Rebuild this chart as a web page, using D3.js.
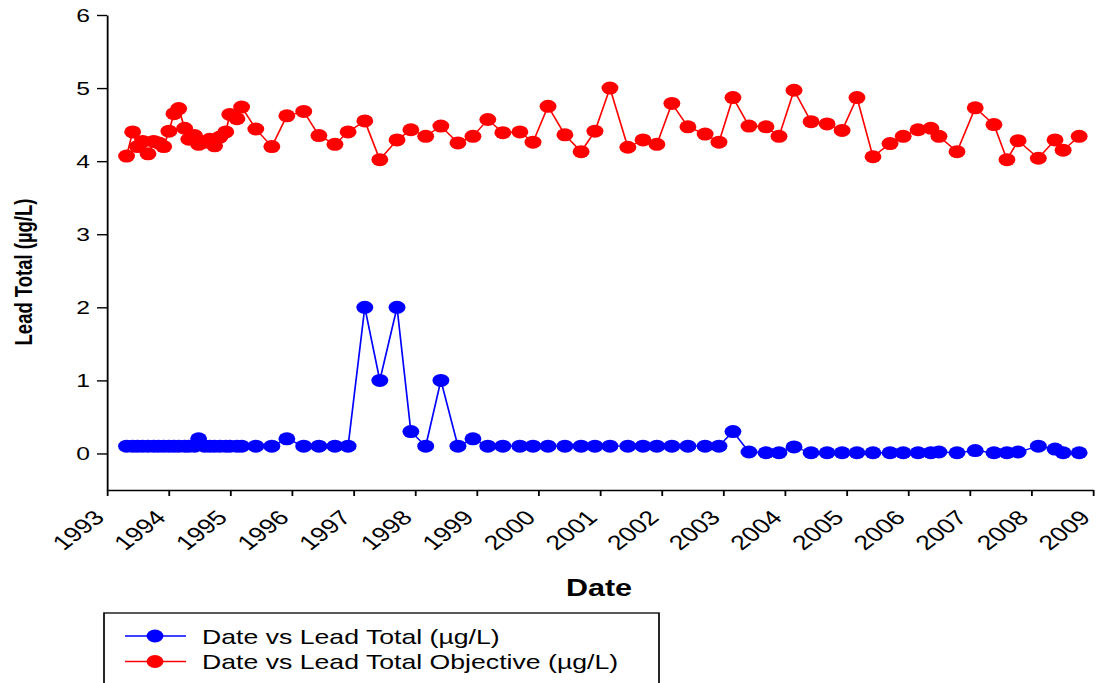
<!DOCTYPE html>
<html>
<head>
<meta charset="utf-8">
<script src="https://cdn.jsdelivr.net/npm/d3@7"></script>
<style>
  html, body { margin: 0; padding: 0; background: #fff; overflow: hidden; }
  svg { display: block; }
</style>
</head>
<body>
<svg id="chart"></svg>
<script>
// ---------------- data ----------------
const sampleDates = [
  "1993-04-27","1993-06-02","1993-07-01","1993-08-01","1993-09-01","1993-10-05","1993-11-03","1993-12-03",
  "1994-01-03","1994-02-02","1994-03-02","1994-04-06","1994-05-01","1994-06-04","1994-06-28","1994-08-03",
  "1994-09-02","1994-10-01","1994-11-01","1994-12-06","1994-12-30","1995-02-10","1995-03-10","1995-06-02",
  "1995-09-05","1995-12-03","1996-03-12","1996-06-10","1996-09-13","1996-11-30","1997-03-09","1997-06-06",
  "1997-09-16","1997-12-07","1998-03-05","1998-06-03","1998-09-12","1998-12-10","1999-03-08","1999-06-05",
  "1999-09-14","1999-12-01","2000-02-28","2000-06-07","2000-09-11","2000-12-02","2001-03-01","2001-06-15",
  "2001-09-13","2001-12-04","2002-03-03","2002-06-06","2002-09-16","2002-12-07","2003-02-28","2003-06-03",
  "2003-09-12","2003-11-28","2004-02-25","2004-06-05","2004-09-08","2004-12-06","2005-03-04","2005-06-07",
  "2005-09-16","2005-12-03","2006-03-01","2006-05-16","2006-07-03","2006-10-18","2007-02-03","2007-05-25",
  "2007-08-10","2007-10-15","2008-02-12","2008-05-21","2008-07-08","2008-10-11"
];
const leadTotal = [
  0.1,0.1,0.1,0.1,0.1,0.1,0.1,0.1,
  0.1,0.1,0.1,0.1,0.1,0.1,0.2,0.1,
  0.1,0.1,0.1,0.1,0.1,0.1,0.1,0.1,
  0.1,0.2,0.1,0.1,0.1,0.1,2.0,1.0,
  2.0,0.3,0.1,1.0,0.1,0.2,0.1,0.1,
  0.1,0.1,0.1,0.1,0.1,0.1,0.1,0.1,
  0.1,0.1,0.1,0.1,0.1,0.1,0.3,0.02,
  0.01,0.01,0.09,0.01,0.01,0.01,0.01,0.01,
  0.01,0.01,0.01,0.01,0.02,0.01,0.04,0.01,
  0.01,0.02,0.1,0.06,0.01,0.01
];
const leadObjective = [
  4.07,4.40,4.20,4.27,4.10,4.27,4.25,4.20,
  4.41,4.65,4.72,4.45,4.30,4.35,4.23,4.26,
  4.30,4.21,4.33,4.40,4.64,4.58,4.74,4.44,
  4.20,4.62,4.68,4.35,4.23,4.40,4.55,4.02,
  4.29,4.43,4.34,4.48,4.25,4.34,4.57,4.39,
  4.40,4.26,4.75,4.36,4.13,4.41,5.00,4.19,
  4.29,4.23,4.79,4.47,4.37,4.26,4.87,4.48,
  4.47,4.34,4.97,4.54,4.51,4.42,4.87,4.06,
  4.24,4.34,4.43,4.45,4.34,4.13,4.73,4.50,
  4.02,4.28,4.04,4.29,4.15,4.34
];
const yTickValues = [0, 1, 2, 3, 4, 5, 6];
const xTickYears = [1993,1994,1995,1996,1997,1998,1999,2000,2001,2002,2003,2004,2005,2006,2007,2008,2009];
const seriesNames = ["Date vs Lead Total (\u00b5g/L)", "Date vs Lead Total Objective (\u00b5g/L)"];
const seriesColors = ["#0000ff", "#ff0000"];
const xTitle = "Date";
const yTitle = "Lead Total (\u00b5g/L)";

// ---------------- layout ----------------
const W = 1096, H = 683;
const S = 1.3;               // horizontal stretch of the original picture
const X = v => v / S;        // screen x -> design x
const FONT = "'Liberation Sans', Arial, Helvetica, sans-serif";

const svg = d3.select("#chart")
  .attr("width", W).attr("height", H)
  .attr("viewBox", `0 0 ${W / S} ${H}`)
  .attr("preserveAspectRatio", "none");

const parse = d3.timeParse("%Y-%m-%d");
const dates = sampleDates.map(parse);

const x = d3.scaleTime()
  .domain([new Date(xTickYears[0], 0, 1), new Date(xTickYears[xTickYears.length - 1], 0, 1)])
  .range([X(107), X(1093)]);
const y = d3.scaleLinear().domain([-0.5, 6]).range([490, 15]);

// axes
const xAxis = d3.axisBottom(x)
  .tickValues(xTickYears.map(yr => new Date(yr, 0, 1)))
  .tickFormat(d3.timeFormat("%Y"))
  .tickSizeInner(6).tickSizeOuter(0);
const gx = svg.append("g").attr("transform", `translate(0,${y(-0.5)})`).call(xAxis);
gx.select(".domain").attr("stroke", "#000").attr("stroke-width", 1.4);
gx.selectAll(".tick line").attr("stroke", "#000").attr("stroke-width", 1.4);
gx.selectAll(".tick text")
  .attr("font-family", FONT).attr("font-size", 20.5).attr("fill", "#000")
  .attr("text-anchor", "end")
  .attr("x", 0).attr("y", 0).attr("dy", 0)
  .attr("transform", `translate(${X(-2)},29) rotate(-45)`);

const yAxis = d3.axisLeft(y).tickValues(yTickValues).tickFormat(d3.format("d"))
  .tickSizeInner(X(10)).tickSizeOuter(0).tickPadding(X(7));
const gy = svg.append("g").attr("transform", `translate(${X(107)},0)`).call(yAxis);
gy.select(".domain").attr("stroke", "#000").attr("stroke-width", 1.4);
gy.selectAll(".tick line").attr("stroke", "#000").attr("stroke-width", 1.4);
gy.selectAll(".tick text")
  .attr("font-family", FONT).attr("font-size", 19).attr("fill", "#000");

// titles
svg.append("text")
  .attr("x", X(599)).attr("y", 596)
  .attr("text-anchor", "middle")
  .attr("font-family", FONT).attr("font-weight", "bold").attr("font-size", 23.5)
  .text(xTitle);
svg.append("text")
  .attr("transform", `translate(${X(32)},272) rotate(-90)`)
  .attr("text-anchor", "middle")
  .attr("font-family", FONT).attr("font-weight", "bold").attr("font-size", 18.5)
  .text(yTitle);

// series
const series = [leadTotal, leadObjective];
const line = d3.line().x(d => x(d.date)).y(d => y(d.value));
series.forEach((vals, i) => {
  const pts = vals.map((v, k) => ({ date: dates[k], value: v }));
  const g = svg.append("g");
  g.append("path").datum(pts)
    .attr("d", line).attr("fill", "none")
    .attr("stroke", seriesColors[i]).attr("stroke-width", 1.3);
  g.selectAll("circle").data(pts).join("circle")
    .attr("cx", d => x(d.date)).attr("cy", d => y(d.value))
    .attr("r", 6.5).attr("fill", seriesColors[i]);
});

// legend
const lg = svg.append("g");
lg.append("rect")
  .attr("x", X(104)).attr("y", 613)
  .attr("width", X(555)).attr("height", 120)
  .attr("fill", "none").attr("stroke", "#000").attr("stroke-width", 1.3);
seriesNames.forEach((name, i) => {
  const cy = 636 + i * 25.5;
  lg.append("line")
    .attr("x1", X(125)).attr("x2", X(186)).attr("y1", cy).attr("y2", cy)
    .attr("stroke", seriesColors[i]).attr("stroke-width", 1.3);
  lg.append("circle").attr("cx", X(155)).attr("cy", cy).attr("r", 6.5).attr("fill", seriesColors[i]);
  lg.append("text")
    .attr("x", X(202)).attr("y", cy + 8)
    .attr("font-family", FONT).attr("font-size", 20.5).attr("fill", "#000")
    .text(name);
});
</script>
</body>
</html>
